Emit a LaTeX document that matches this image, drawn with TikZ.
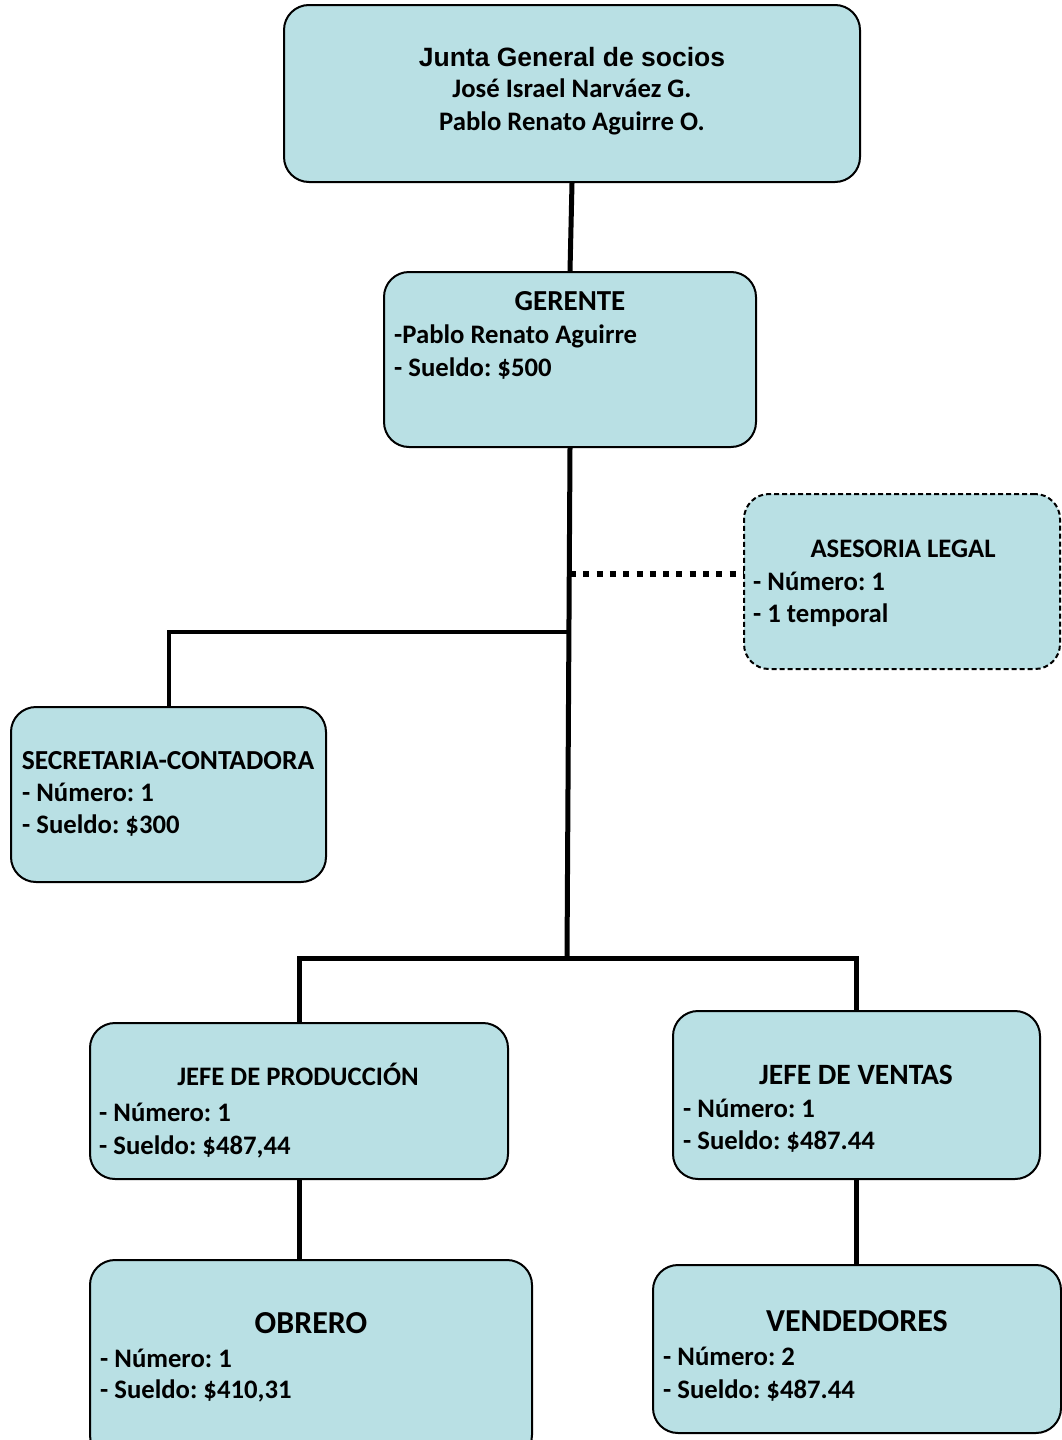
\documentclass[tikz,border=0pt]{standalone}
\usepackage{fontspec}
\setmainfont{Carlito}
\newfontfamily\arialfont{Liberation Sans}
\usetikzlibrary{positioning}
\definecolor{cajafill}{HTML}{B9E0E4}
\frenchspacing

\begin{document}
\begin{tikzpicture}[x=1pt,y=-1pt,
  caja/.style={draw,line width=2pt,fill=cajafill,rounded corners=25pt,inner sep=0pt},
  tit/.style={anchor=base,inner sep=0pt,font=\fontsize{26.7}{33}\selectfont\bfseries},
  titg/.style={tit,font=\fontsize{32}{36}\selectfont\bfseries},
  lin/.style={anchor=base west,inner sep=0pt,font=\fontsize{26.7}{33}\selectfont\bfseries},
  enlace/.style={line width=5pt},
  punteado/.style={line width=6pt,dash pattern=on 6pt off 7.3pt}]
\useasboundingbox (0,0) rectangle (1061,1440);

% cajas
\node[caja,minimum width=576pt,minimum height=177pt] (junta) at (572,93.5) {};
\node[caja,minimum width=372pt,minimum height=175pt] (gerente) at (570,359.5) {};
\node[caja,dashed,dash pattern=on 5pt off 3pt,minimum width=316pt,minimum height=175pt] (asesoria) at (902,581.5) {};
\node[caja,minimum width=315pt,minimum height=175pt] (secretaria) at (168.5,794.5) {};
\node[caja,minimum width=418pt,minimum height=156pt] (jefep) at (299,1101) {};
\node[caja,minimum width=367pt,minimum height=168pt] (jefev) at (856.5,1095) {};
\node[caja,minimum width=442pt,minimum height=200pt] (obrero) at (311,1360) {};
\node[caja,minimum width=408pt,minimum height=168pt] (vendedores) at (857,1349) {};

% textos
\node[tit,font=\fontsize{26.5}{33}\selectfont\bfseries\arialfont] (junta1) at (572,66.5) {Junta General de socios};
\node[tit] (junta2) at (572,97) {José Israel Narváez G.};
\node[tit] (junta3) at (572,130) {Pablo Renato Aguirre O.};

\node[tit,font=\fontsize{29}{33}\selectfont\bfseries] (ger0) at (570,310) {GERENTE};
\node[lin] (ger1) at (394,343) {-Pablo Renato Aguirre};
\node[lin] (ger2) at (394,376) {- Sueldo: \$500};

\node[tit] (ase0) at (903,557) {ASESORIA LEGAL};
\node[lin] (ase1) at (753,590) {- Número: 1};
\node[lin] (ase2) at (753,622) {- 1 temporal};

\node[tit,font=\fontsize{27.5}{33}\selectfont\bfseries] (sec0) at (168,769) {SECRETARIA-CONTADORA};
\node[lin] (sec1) at (22,801) {- Número: 1};
\node[lin] (sec2) at (22,833) {- Sueldo: \$300};

\node[tit] (jp0) at (298,1085) {JEFE DE PRODUCCIÓN};
\node[lin] (jp1) at (99,1121) {- Número: 1};
\node[lin] (jp2) at (99,1154) {- Sueldo: \$487,44};

\node[tit,font=\fontsize{29.5}{33}\selectfont\bfseries] (jv0) at (856,1084) {JEFE DE VENTAS};
\node[lin] (jv1) at (683,1117) {- Número: 1};
\node[lin] (jv2) at (683,1149) {- Sueldo: \$487.44};

\node[titg] (obr0) at (311,1333) {OBRERO};
\node[lin] (obr1) at (100,1367) {- Número: 1};
\node[lin] (obr2) at (100,1398) {- Sueldo: \$410,31};

\node[titg] (ven0) at (857,1331) {VENDEDORES};
\node[lin] (ven1) at (663,1365) {- Número: 2};
\node[lin] (ven2) at (663,1398) {- Sueldo: \$487.44};

% enlaces
\coordinate (jase) at (570,574);
\coordinate (jsec) at (568,632);
\coordinate (hbot) at (567,958);
\draw[enlace] (junta.south) -- (gerente.north);
\draw[enlace] (gerente.south) -- (hbot);
\draw[enlace,line width=4pt] (jsec) -| (secretaria.north);
\draw[punteado] (jase) -- (jase -| asesoria.west);
\draw[enlace] (jefep.north) |- (hbot) -| (jefev.north);
\draw[enlace] (jefep.south) -- (jefep.south |- obrero.north);
\draw[enlace] (jefev.south) -- (jefev.south |- vendedores.north);
\end{tikzpicture}
\end{document}
